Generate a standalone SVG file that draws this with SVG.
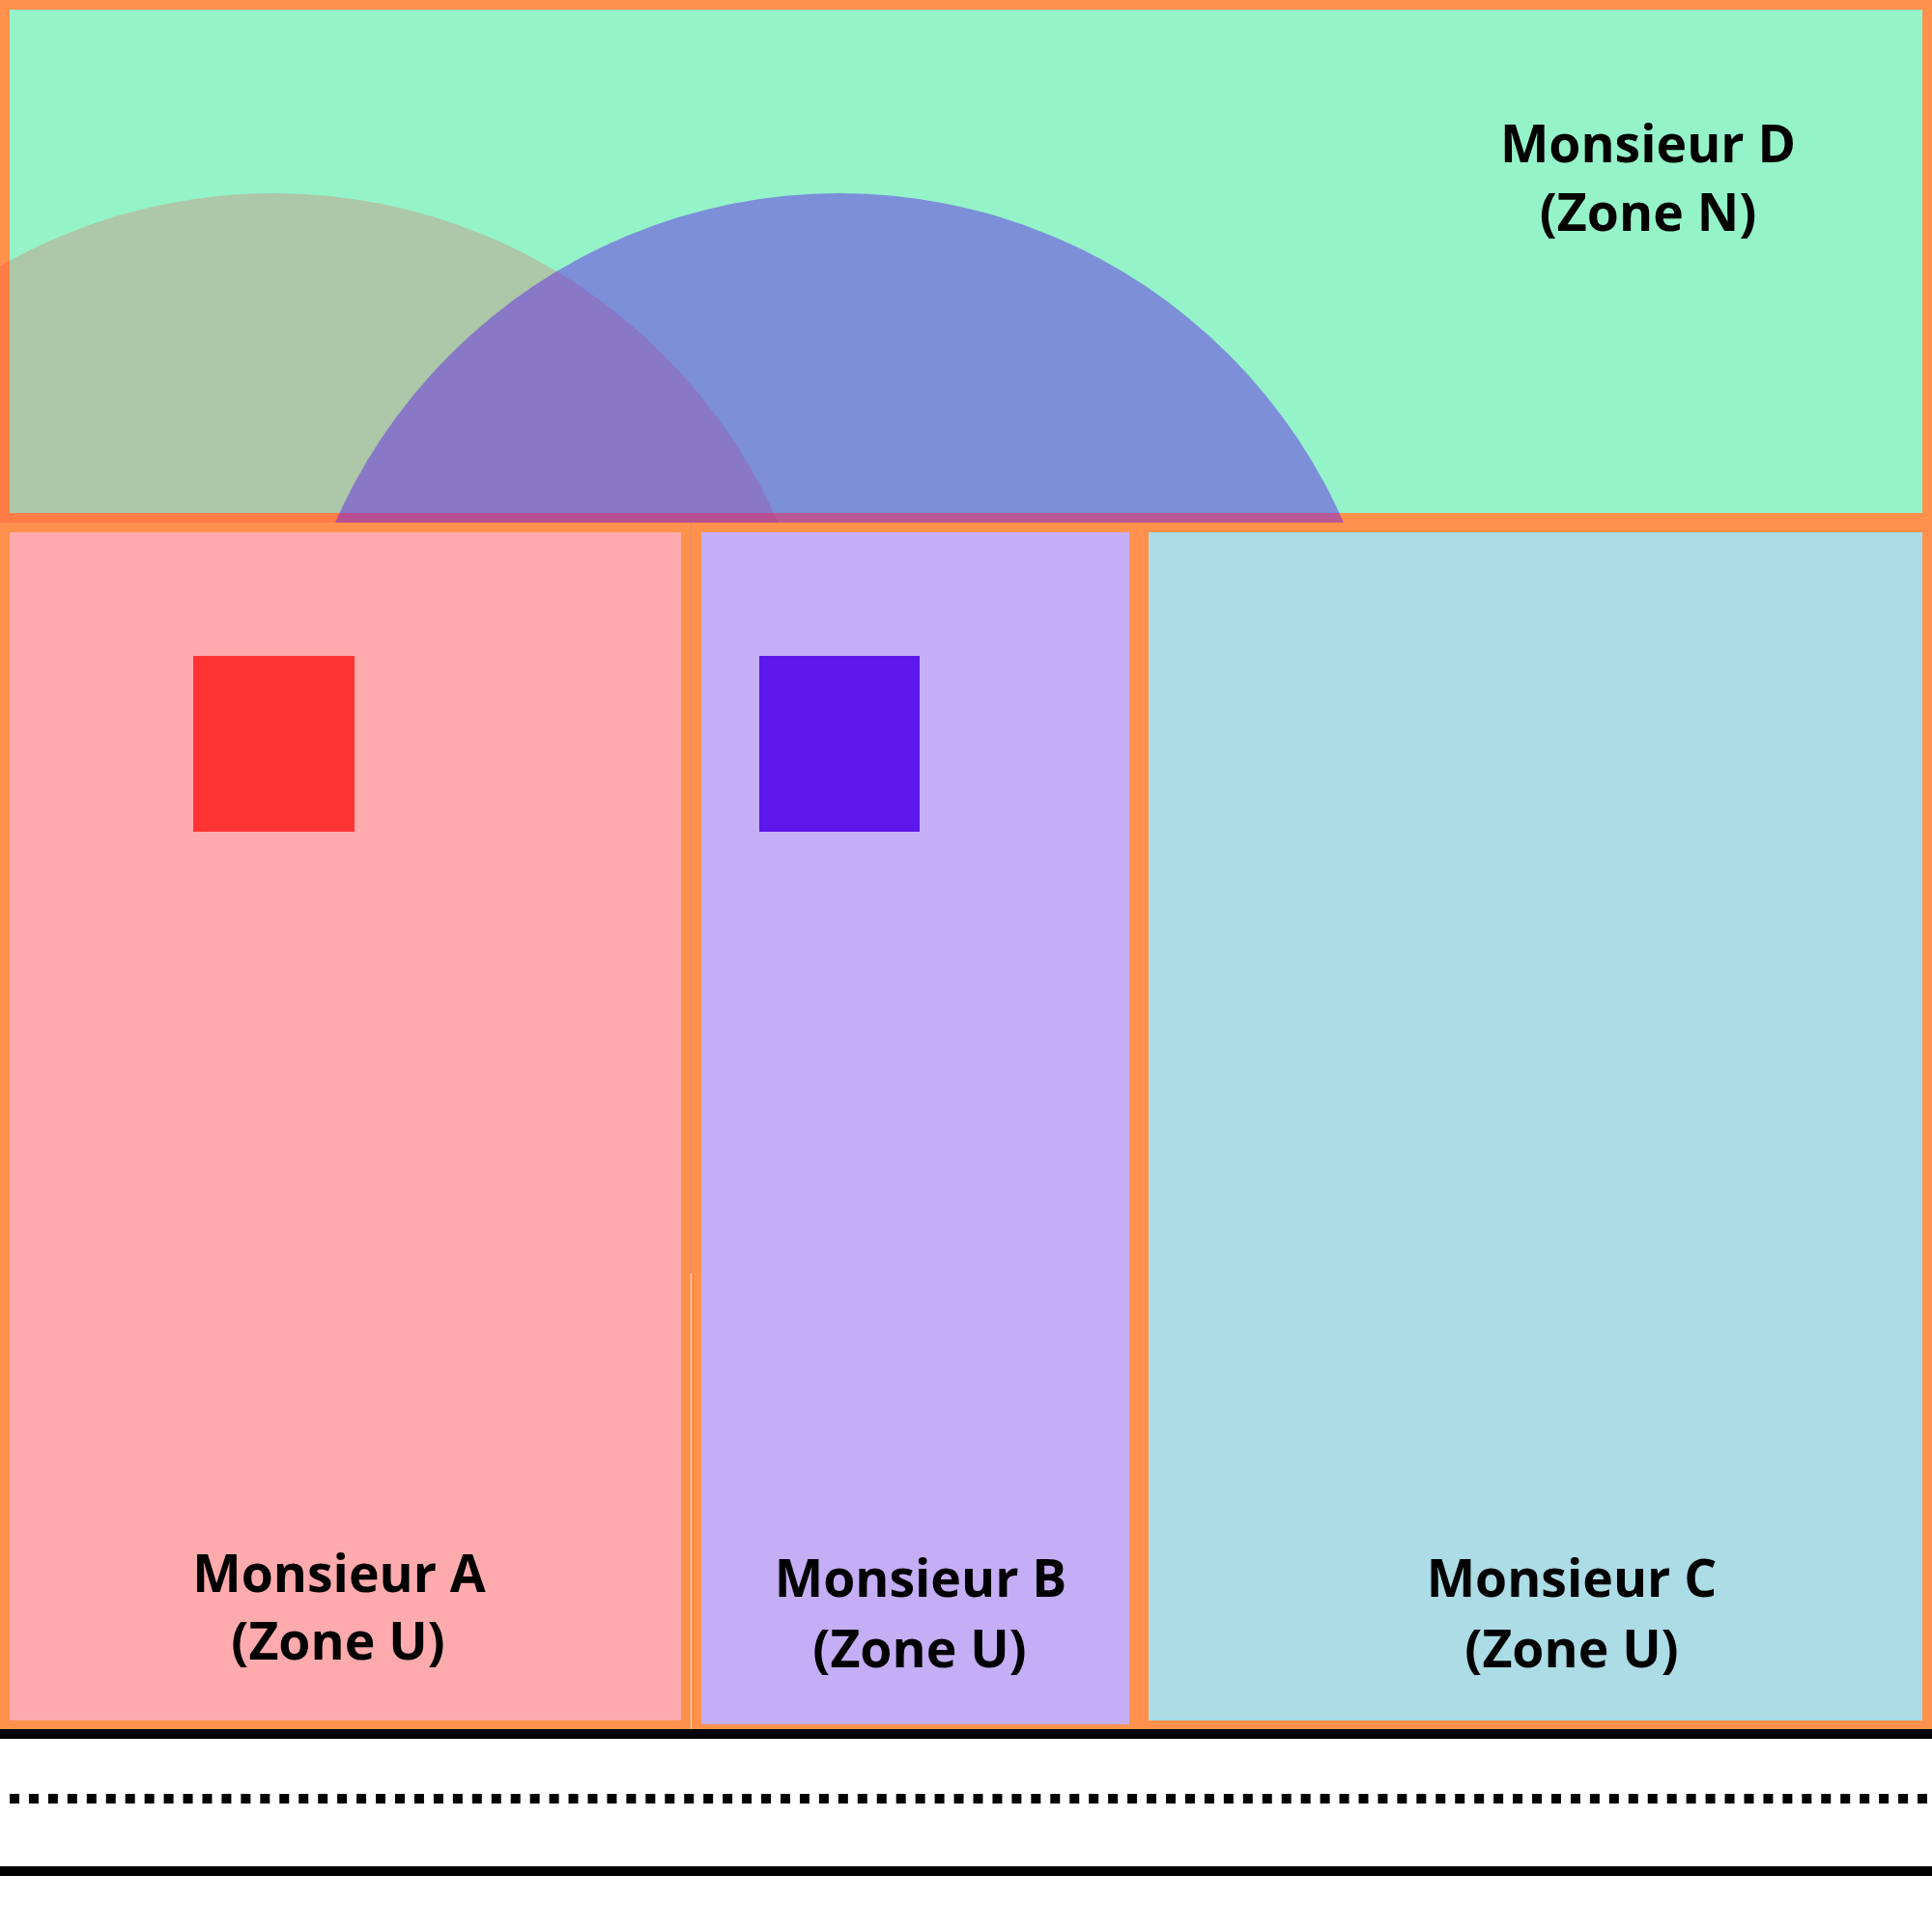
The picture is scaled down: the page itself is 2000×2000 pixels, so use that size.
<svg xmlns="http://www.w3.org/2000/svg" width="2000" height="2000" viewBox="0 0 2000 2000">
<style>
.zone{stroke:#FF914D;stroke-width:10}
.lbl{font-family:"Open Sans","Noto Sans","DejaVu Sans",sans-serif;font-weight:700;font-size:53.5px;fill:#000;text-anchor:middle}
.road{stroke:#000;stroke-width:10;fill:none}
</style>
<defs>
<clipPath id="clipD"><rect x="0" y="0" width="2000" height="541"/></clipPath>
</defs>
<rect x="0" y="0" width="2000" height="2000" fill="#FFFFFF"/>
<g id="zoneD">
<rect class="zone" x="5" y="5" width="1990" height="531" fill="#95F3C9"/>
</g>
<g id="perimeters" clip-path="url(#clipD)">
<circle id="perimA" cx="283.5" cy="770" r="570" fill="#FF3131" fill-opacity="0.22"/>
<circle id="perimB" cx="869" cy="770" r="570" fill="#5E17EB" fill-opacity="0.45"/>
</g>
<g id="gap">
<rect x="715" y="541" width="1" height="777" fill="#D58C86"/>
<rect x="715" y="1318" width="1" height="472" fill="#FFE2CC"/>
</g>
<g id="zoneA">
<rect class="zone" x="5" y="546" width="705" height="1240" fill="#FFABAD"/>
<rect id="buildingA" x="200" y="679" width="167" height="182" fill="#FF3333"/>
<text class="lbl" x="351" y="1648">Monsieur A</text>
<text class="lbl" x="350" y="1718">(Zone U)</text>
</g>
<g id="zoneB">
<rect class="zone" x="721" y="546" width="453" height="1244" fill="#C4AEF5"/>
<rect id="buildingB" x="786" y="679" width="166" height="182" fill="#5E17EB"/>
<text class="lbl" x="953" y="1653">Monsieur B</text>
<text class="lbl" x="952" y="1726">(Zone U)</text>
</g>
<g id="zoneC">
<rect class="zone" x="1184" y="546" width="811" height="1240" fill="#ACDCE6"/>
<text class="lbl" x="1627" y="1653">Monsieur C</text>
<text class="lbl" x="1627" y="1726">(Zone U)</text>
</g>
<g id="labelD">
<text class="lbl" x="1706" y="168">Monsieur D</text>
<text class="lbl" x="1706" y="239">(Zone N)</text>
</g>
<g id="road">
<line class="road" x1="0" y1="1795" x2="2000" y2="1795"/>
<line class="road" x1="10" y1="1862" x2="2000" y2="1862" stroke-dasharray="9.975 9.975"/>
<line class="road" x1="0" y1="1937" x2="2000" y2="1937"/>
</g>
</svg>
